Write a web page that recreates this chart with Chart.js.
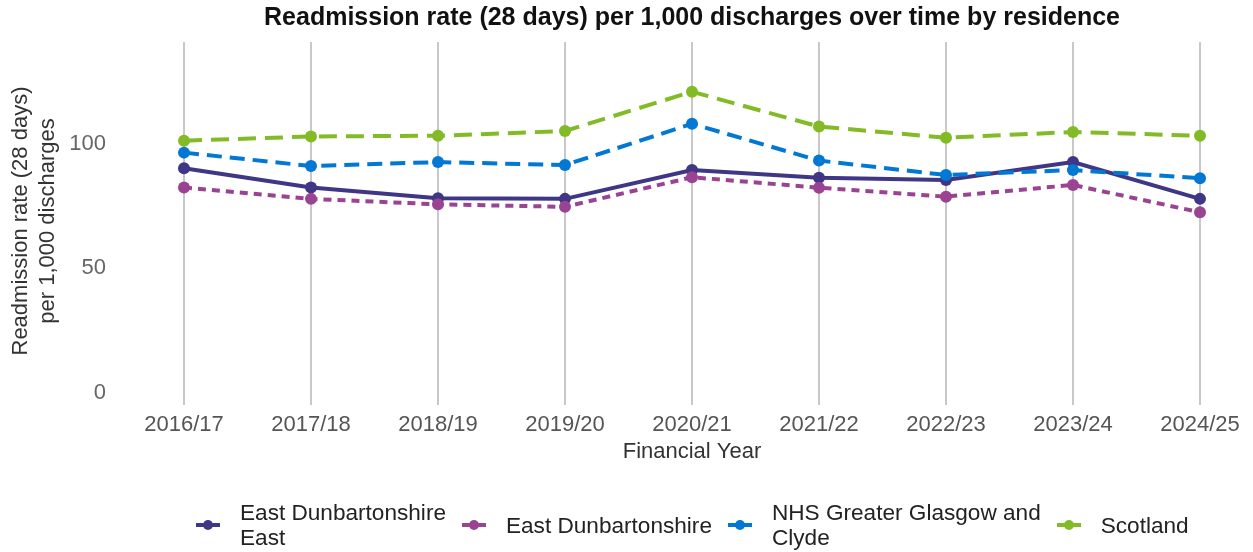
<!DOCTYPE html>
<html>
<head>
<meta charset="utf-8">
<script src="https://cdn.jsdelivr.net/npm/chart.js@4/dist/chart.umd.min.js"></script>
<style>
  body { margin: 0; background: #fff; font-family: "Liberation Sans", Arial, sans-serif; }
  #wrap { position: relative; width: 1253px; height: 552px; }
  #legend { position: absolute; left: 196px; top: 500px; display: flex; align-items: center; gap: 16px; }
  .item { display: flex; align-items: center; gap: 20px; }
  .sym { position: relative; width: 24px; height: 12px; }
  .sym .ln { position: absolute; left: 0; top: 4px; width: 24px; height: 4px; }
  .sym .dot { position: absolute; left: 7px; top: 1px; width: 10px; height: 10px; border-radius: 50%; }
  .txt { font-size: 22.6px; line-height: 25px; color: #222; }
</style>
</head>
<body>
<div id="wrap">
  <canvas id="chart"></canvas>
  <div id="legend"></div>
</div>
<script>
const years = ['2016/17', '2017/18', '2018/19', '2019/20', '2020/21', '2021/22', '2022/23', '2023/24', '2024/25'];
const eastDunEast = [90.2, 82.5, 78.2, 77.9, 89.5, 86.4, 85.5, 92.7, 77.9];
const eastDun = [82.5, 77.9, 75.7, 74.7, 86.6, 82.4, 78.8, 83.5, 72.5];
const ggc = [96.5, 91.1, 92.7, 91.5, 108.1, 93.3, 87.5, 89.5, 86.2];
const scotland = [101.3, 103.0, 103.3, 105.2, 121.0, 107.0, 102.5, 104.8, 103.3];
const yTicks = [0, 50, 100];

const series = [
  { label: 'East Dunbartonshire East', legend: 'East Dunbartonshire<br>East', data: eastDunEast, color: '#3F3685', dash: [], order: 4 },
  { label: 'East Dunbartonshire', legend: 'East Dunbartonshire', data: eastDun, color: '#9B4393', dash: [8, 6], order: 3 },
  { label: 'NHS Greater Glasgow and Clyde', legend: 'NHS Greater Glasgow and<br>Clyde', data: ggc, color: '#0078D4', dash: [15, 8], order: 2 },
  { label: 'Scotland', legend: 'Scotland', data: scotland, color: '#83BB26', dash: [18, 9], order: 1 }
];

const font = "'Liberation Sans', Arial, sans-serif";

new Chart(document.getElementById('chart'), {
  type: 'line',
  data: {
    labels: years,
    datasets: series.map(s => ({
      label: s.label,
      data: s.data,
      borderColor: s.color,
      backgroundColor: s.color,
      borderWidth: 4,
      borderDash: s.dash,
      pointRadius: 6,
      pointHoverRadius: 6,
      pointBorderWidth: 0,
      fill: false,
      tension: 0,
      order: s.order
    }))
  },
  options: {
    responsive: true,
    maintainAspectRatio: false,
    animation: false,
    layout: { padding: { left: 8, right: 53, top: 0, bottom: 80 } },
    plugins: {
      legend: { display: false },
      tooltip: { enabled: false },
      title: {
        display: true,
        fullSize: false,
        text: 'Readmission rate (28 days) per 1,000 discharges over time by residence',
        color: '#111',
        font: { family: font, size: 25, weight: 'bold' },
        padding: { top: 3, bottom: 9 }
      }
    },
    scales: {
      x: {
        offset: false,
        border: { display: false },
        grid: { display: true, color: '#c8c8c8', lineWidth: 2, drawTicks: true, tickLength: 5 },
        ticks: { color: '#555', font: { family: font, size: 22 }, padding: 7, maxRotation: 0 },
        title: { display: true, text: 'Financial Year', color: '#333', font: { family: font, size: 22 }, padding: { top: 0, bottom: 7 } },
        afterFit: s => { s.height = 72; }
      },
      y: {
        min: -3,
        max: 141,
        border: { display: false },
        grid: { display: false, drawTicks: false },
        afterBuildTicks: s => { s.ticks = yTicks.map(v => ({ value: v })); },
        ticks: { color: '#666', font: { family: font, size: 22 }, padding: 78 },
        title: {
          display: true,
          text: ['Readmission rate (28 days)', 'per 1,000 discharges'],
          color: '#333',
          font: { family: font, size: 22 },
          padding: { top: 0, bottom: 0 }
        },
        afterFit: s => { s.width = 176; s.paddingTop = 0; s.paddingBottom = 0; }
      }
    }
  }
});

const legend = document.getElementById('legend');
series.forEach(s => {
  const item = document.createElement('div');
  item.className = 'item';
  item.innerHTML = '<span class="sym"><span class="ln" style="background:' + s.color + '"></span>' +
    '<span class="dot" style="background:' + s.color + '"></span></span>' +
    '<span class="txt">' + s.legend + '</span>';
  legend.appendChild(item);
});
</script>
</body>
</html>
